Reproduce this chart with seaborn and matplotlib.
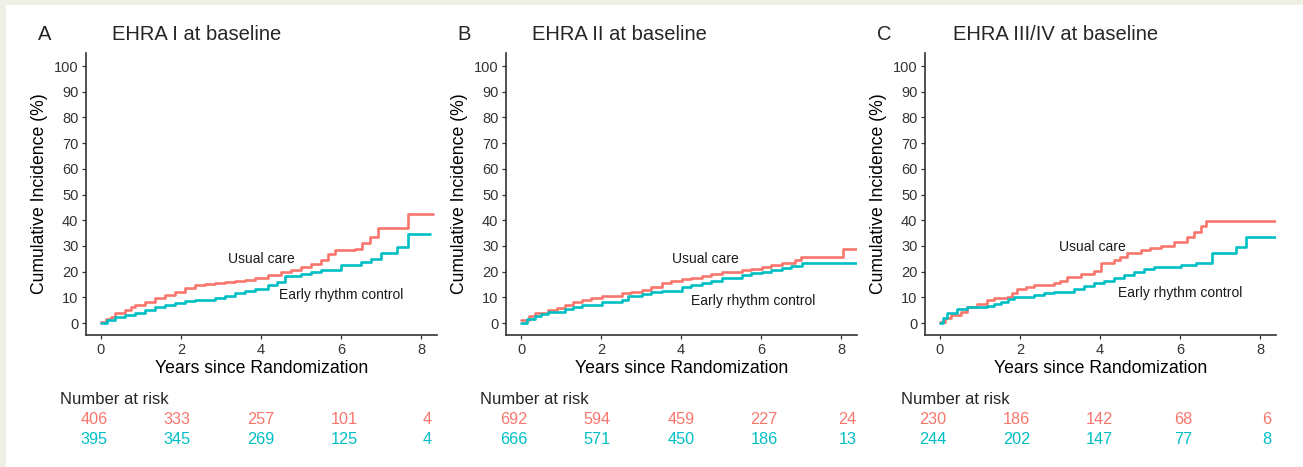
import numpy as np
import pandas as pd
import matplotlib.pyplot as plt
import seaborn as sns
from matplotlib.patches import Rectangle

# Daten
panel_letters = ["A", "B", "C"]
panel_titles = ["EHRA I at baseline", "EHRA II at baseline", "EHRA III/IV at baseline"]
groups = ["Usual care", "Early rhythm control"]

# Panel A
a_uc_t = [0, 0.12, 0.25, 0.35, 0.6, 0.75, 0.85, 1.1, 1.35, 1.6, 1.85, 2.1, 2.35, 2.6, 2.85, 3.1,
          3.35, 3.6, 3.85, 4.18, 4.5, 4.75, 5.0, 5.25, 5.5, 5.68, 5.85, 6.35, 6.52, 6.73, 6.93,
          7.68, 8.31]
a_uc_v = [0.5, 1.5, 2.5, 3.8, 5.0, 6.2, 7.0, 8.2, 9.6, 10.8, 12.2, 13.5, 14.8, 15.2, 15.7, 16.0,
          16.3, 16.9, 17.4, 18.7, 20.0, 20.8, 21.9, 23.0, 24.5, 27.0, 28.4, 29.0, 31.0, 33.6, 36.8,
          42.4, 42.4]
a_erc_t = [0, 0.15, 0.35, 0.6, 0.85, 1.1, 1.35, 1.6, 1.85, 2.1, 2.35, 2.85, 3.1, 3.35, 3.6, 3.85,
           4.18, 4.4, 4.6, 5.0, 5.25, 5.5, 6.0, 6.5, 6.75, 7.0, 7.39, 7.68, 8.22]
a_erc_v = [0, 1.2, 2.5, 3.0, 3.8, 5.0, 6.3, 7.0, 7.7, 8.5, 9.0, 9.6, 10.5, 11.5, 12.3, 13.1,
           14.8, 16.0, 18.3, 19.0, 19.8, 20.6, 22.6, 23.9, 25.0, 27.1, 29.7, 34.5, 34.5]

# Panel B
b_uc_t = [0, 0.2, 0.35, 0.68, 0.9, 1.1, 1.3, 1.52, 1.75, 2.02, 2.52, 2.75, 3.02, 3.25, 3.52, 3.75,
          4.02, 4.25, 4.52, 4.75, 5.02, 5.52, 5.75, 6.02, 6.25, 6.52, 6.85, 7.0, 8.06, 8.39]
b_uc_v = [1.2, 2.6, 3.8, 5.0, 6.0, 7.0, 8.0, 9.0, 9.8, 10.6, 11.5, 12.0, 12.8, 14.0, 15.4, 16.2,
          17.0, 17.6, 18.3, 19.2, 20.0, 20.6, 21.1, 21.7, 22.4, 23.2, 24.5, 25.5, 29.0, 29.0]
b_erc_t = [0, 0.15, 0.35, 0.5, 0.68, 1.1, 1.3, 1.52, 2.02, 2.52, 2.68, 3.02, 3.25, 3.52, 4.02,
           4.25, 4.52, 4.75, 5.02, 5.52, 5.75, 6.02, 6.25, 6.52, 6.75, 7.02, 8.39]
b_erc_v = [0, 1.5, 2.7, 3.6, 4.4, 5.3, 6.2, 7.0, 8.3, 9.0, 10.5, 11.3, 12.0, 12.6, 13.9,
           14.6, 15.4, 16.4, 17.4, 18.7, 19.3, 20.0, 20.6, 21.3, 22.2, 23.2, 23.2]

# Panel C
c_uc_t = [0, 0.12, 0.27, 0.52, 0.68, 0.93, 1.18, 1.35, 1.68, 1.8, 1.93, 2.15, 2.35, 2.85, 3.0,
          3.18, 3.52, 3.85, 4.02, 4.35, 4.5, 4.68, 5.02, 5.25, 5.52, 5.85, 6.18, 6.35, 6.52, 6.64,
          8.39]
c_uc_v = [0.5, 1.8, 3.1, 4.4, 6.3, 7.4, 9.0, 9.9, 10.2, 11.5, 13.1, 14.0, 14.8, 15.7, 16.5,
          17.8, 19.0, 20.4, 23.2, 24.5, 25.5, 27.1, 28.4, 29.2, 30.0, 31.6, 33.3, 35.5, 37.7, 39.8,
          39.8]
c_erc_t = [0, 0.08, 0.18, 0.43, 0.68, 1.18, 1.35, 1.52, 1.7, 1.85, 2.35, 2.6, 2.85, 3.35, 3.6,
           3.85, 4.1, 4.35, 4.6, 4.85, 5.1, 5.35, 6.02, 6.4, 6.8, 7.39, 7.64, 8.39]
c_erc_v = [0, 2.0, 3.8, 5.3, 6.1, 6.6, 7.5, 8.3, 9.3, 10.2, 10.9, 11.6, 12.2, 13.1, 14.3,
           15.4, 16.4, 17.4, 18.7, 20.0, 21.0, 21.9, 22.6, 23.2, 27.1, 29.7, 33.3, 33.3]

# Number at risk
risk_times = [0, 2, 4, 6, 8]
a_risk_uc = [406, 333, 257, 101, 4]
a_risk_erc = [395, 345, 269, 125, 4]
b_risk_uc = [692, 594, 459, 227, 24]
b_risk_erc = [666, 571, 450, 186, 13]
c_risk_uc = [230, 186, 142, 68, 6]
c_risk_erc = [244, 202, 147, 77, 8]

# Beschriftungen in den Kurven (x, y in Datenkoordinaten)
uc_label_pos = [(4.0, 24.8), (4.6, 24.8), (3.8, 29.7)]
erc_label_pos = [(6.0, 10.9), (5.8, 8.6), (6.0, 11.6)]

panels = [
    (a_uc_t, a_uc_v, a_erc_t, a_erc_v, a_risk_uc, a_risk_erc),
    (b_uc_t, b_uc_v, b_erc_t, b_erc_v, b_risk_uc, b_risk_erc),
    (c_uc_t, c_uc_v, c_erc_t, c_erc_v, c_risk_uc, c_risk_erc),
]

red = "#F8766D"
teal = "#00BFC4"
palette = {"Usual care": red, "Early rhythm control": teal}

sns.set_style("white")
plt.rcParams['font.family'] = ['Liberation Sans', 'DejaVu Sans']

W, H = 1303, 467
fig = plt.figure(figsize=(W / 100, H / 100), dpi=100)
fig.patch.set_facecolor("white")
# beiger Rand oben und links
fig.patches.append(Rectangle((0, 1 - 5 / H), 1, 5 / H, transform=fig.transFigure,
                             facecolor="#efefe6", edgecolor="none", zorder=0))
fig.patches.append(Rectangle((0, 0), 6 / W, 1, transform=fig.transFigure,
                             facecolor="#efefe6", edgecolor="none", zorder=0))

left_px = [86, 506, 925]
ax_w = 351
ax_top, ax_bot = 53, 335

for i, (uc_t, uc_v, erc_t, erc_v, r_uc, r_erc) in enumerate(panels):
    lx = left_px[i]
    ax = fig.add_axes([lx / W, 1 - ax_bot / H, ax_w / W, (ax_bot - ax_top) / H])

    df = pd.concat([
        pd.DataFrame({"t": uc_t, "v": uc_v, "group": groups[0]}),
        pd.DataFrame({"t": erc_t, "v": erc_v, "group": groups[1]}),
    ], ignore_index=True)
    sns.lineplot(data=df, x="t", y="v", hue="group", palette=palette, estimator=None,
                 drawstyle="steps-post", linewidth=1.9, legend=False, ax=ax)

    ax.set_xlim(-0.375, 8.4)
    ax.set_ylim(-4.67, 105.1)
    ax.set_xticks([0, 2, 4, 6, 8])
    ax.set_yticks(range(0, 101, 10))
    for s in ["top", "right"]:
        ax.spines[s].set_visible(False)
    for s in ["left", "bottom"]:
        ax.spines[s].set_color("#333333")
        ax.spines[s].set_linewidth(1.2)
    ax.tick_params(axis="both", length=3, width=0.9, color="#333333", labelcolor="#333333",
                   labelsize=10.5, direction="out", left=True, bottom=True)
    ax.tick_params(axis="y", pad=2.5)
    ax.tick_params(axis="x", pad=3)
    ax.set_xlabel("Years since Randomization", fontsize=12.7, labelpad=2, color="black")
    ax.set_ylabel("Cumulative Incidence (%)", fontsize=12.7, labelpad=4, color="black")

    ax.text(*uc_label_pos[i], "Usual care", fontsize=10, ha="center", va="center", color="#1a1a1a")
    ax.text(*erc_label_pos[i], "Early rhythm control", fontsize=10, ha="center", va="center",
            color="#1a1a1a")

    # Titel und Buchstabe
    title_x = [112, 532, 953][i]
    letter_x = [38, 457, 877][i]
    fig.text(letter_x / W, 1 - 34 / H, panel_letters[i], fontsize=14.5, ha="left", va="center")
    fig.text(title_x / W, 1 - 34 / H, panel_titles[i], fontsize=14.5, ha="left", va="center")

    # Risikotabelle
    tab_top, tab_bot = 410, 448
    tab = fig.add_axes([lx / W, 1 - tab_bot / H, ax_w / W, (tab_bot - tab_top) / H])
    tab.set_xlim(-8 / 41.7, (ax_w - 8) / 41.7)
    tab.set_ylim(0, 1)
    tab.axis("off")
    row_uc = (tab_bot - 420) / (tab_bot - tab_top)
    row_erc = (tab_bot - 439) / (tab_bot - tab_top)
    for t, n1, n2 in zip(risk_times, r_uc, r_erc):
        tab.text(t, row_uc, str(n1), color=red, fontsize=11.7, ha="center", va="center")
        tab.text(t, row_erc, str(n2), color=teal, fontsize=11.7, ha="center", va="center")
    nar_x = [60, 480, 901][i]
    fig.text(nar_x / W, 1 - 399 / H, "Number at risk", fontsize=12, ha="left", va="center")

fig.savefig("out.png", dpi=100, facecolor=fig.get_facecolor())
